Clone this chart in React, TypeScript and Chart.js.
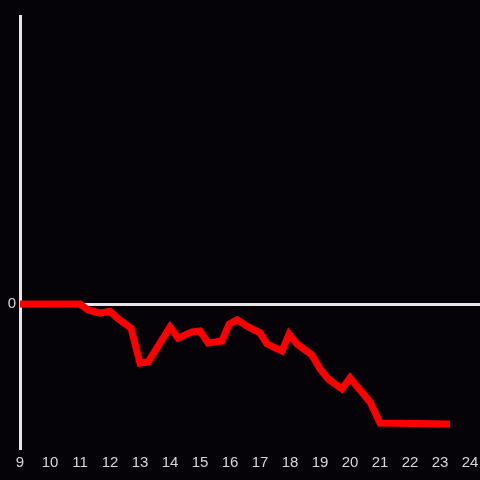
import React, { useEffect, useRef } from "react";
import { Chart, registerables } from "chart.js";

Chart.register(...registerables);

const hours = [9, 11, 11.27, 11.67, 12, 12.27, 12.7, 13, 13.27, 14, 14.27, 14.73, 15, 15.27, 15.73, 15.97, 16.23, 16.67, 17, 17.23, 17.73, 17.97, 18.23, 18.73, 19, 19.27, 19.73, 20, 20.67, 21, 23.33];
const values = [0, 0, -1.25, -1.9, -1.5, -3.1, -5, -12.3, -12.1, -4.8, -7.1, -5.8, -5.6, -8.1, -7.7, -4.2, -3.3, -5, -6, -8.3, -9.8, -6.25, -8.3, -10.6, -13.5, -15.6, -17.7, -15.4, -20.4, -24.8, -25];
const xTicks = [9, 10, 11, 12, 13, 14, 15, 16, 17, 18, 19, 20, 21, 22, 23, 24];
const xMax = 24.333;

export default function App() {
  const ref = useRef<HTMLCanvasElement | null>(null);
  useEffect(() => {
    if (!ref.current) return;
    const chart = new Chart(ref.current, {
      type: "line",
      data: {
        datasets: [
          {
            data: hours.map((h, i) => ({ x: h, y: values[i] })),
            borderColor: "#ff0000",
            borderWidth: 7,
            pointRadius: 0,
            tension: 0,
            fill: false,
          },
        ],
      },
      options: {
        animation: false,
        responsive: false,
        maintainAspectRatio: false,
        layout: { padding: { left: 0, top: 16, right: 0, bottom: 0 } },
        plugins: { legend: { display: false }, tooltip: { enabled: false } },
        scales: {
          x: {
            type: "linear",
            min: xTicks[0],
            max: xMax,
            afterBuildTicks: (s: any) => {
              s.ticks = xTicks.map((v) => ({ value: v }));
            },
            afterFit: (s: any) => {
              s.height = 32;
              s.paddingRight = 0;
            },
            grid: { display: false },
            border: { display: false },
            ticks: {
              color: "#d8d8d8",
              font: { size: 15, family: "Liberation Sans, Arial, sans-serif" },
              padding: -2,
              maxRotation: 0,
              autoSkip: false,
            },
          },
          y: {
            type: "linear",
            min: -30,
            max: 60,
            afterFit: (s: any) => {
              s.width = 20;
            },
            grid: {
              drawTicks: false,
              lineWidth: 3,
              color: (ctx: any) => (ctx.tick && ctx.tick.value === 0 ? "#e6e6e6" : "rgba(0,0,0,0)"),
            },
            border: { display: true, color: "#e6e6e6", width: 3 },
            ticks: {
              stepSize: 10,
              color: "#d8d8d8",
              font: { size: 15, family: "Liberation Sans, Arial, sans-serif" },
              padding: 4,
              callback: (v: any) => (v === 0 ? "0" : ""),
            },
          },
        },
      },
    });
    return () => chart.destroy();
  }, []);
  return (
    <div style={{ position: "fixed", left: 0, top: 0, width: 480, height: 480, background: "#050307" }}>
      <canvas ref={ref} width={480} height={480} style={{ display: "block" }} />
    </div>
  );
}
